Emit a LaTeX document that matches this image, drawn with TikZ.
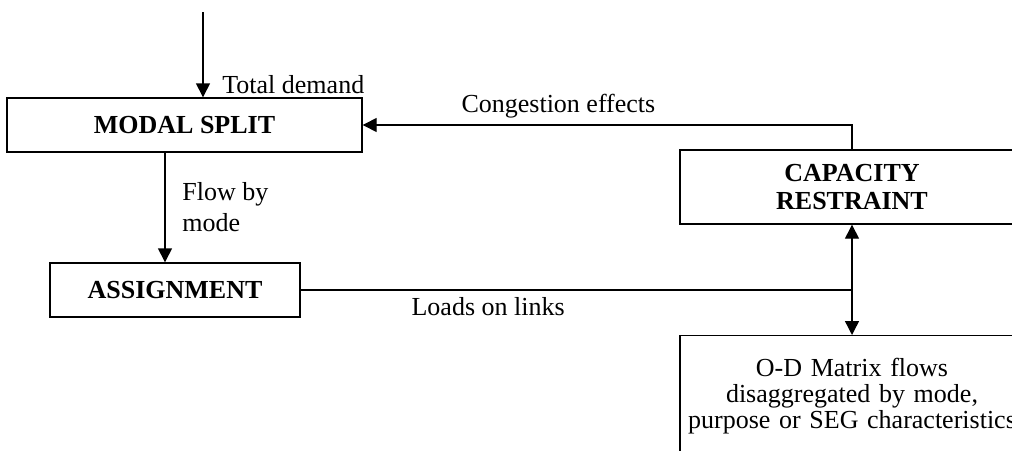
\documentclass[tikz,border=0pt]{standalone}
\usepackage{fontspec}
\setmainfont{Liberation Serif}
\usetikzlibrary{arrows.meta}

\begin{document}
\begin{tikzpicture}[x=0.5pt,y=-0.5pt,line width=0.7pt,
    >={Triangle[length=7pt,width=7pt]},
    every node/.style={font=\fontsize{13}{15.5}\selectfont},
    stage/.style={draw,font=\fontsize{13}{14}\selectfont\bfseries,align=center,inner sep=0pt},
  ]
  \useasboundingbox (0,0) rectangle (1012,450);
  \node[stage,minimum width=177.5pt,minimum height=27pt] (modal) at (184.5,125) {MODAL SPLIT};
  \node[stage,minimum width=125pt,minimum height=27pt] (assign) at (175,290) {ASSIGNMENT};
  \node[stage,minimum width=172pt,minimum height=37pt] (capacity) at (852,187) {CAPACITY\\RESTRAINT};
  \node[draw,anchor=north,text width=165pt,align=center,inner xsep=3.5pt,inner ysep=11pt,text depth=50pt,
    font=\fontsize{13}{13}\selectfont] (od) at (852,335) {O-D Matrix flows\\disaggregated by mode,\\purpose or SEG characteristics};
  \coordinate (in) at (203,12);
  \coordinate (flow) at (165,0);
  \draw[->] (in) -- (in |- modal.north) node[pos=0.85,right=6pt] {Total demand};
  \draw[->] (capacity.north) |- (modal.east) node[pos=0.8,above] {Congestion effects};
  \draw[->] (modal.south -| flow) -- (assign.north -| flow) node[midway,right=5pt,align=left] {Flow by\\mode};
  \draw (assign.east) -- (assign.east -| od.north) node[pos=0.34,below] {Loads on links};
  \draw[<->] (capacity.south) -- (od.north);
\end{tikzpicture}
\end{document}
